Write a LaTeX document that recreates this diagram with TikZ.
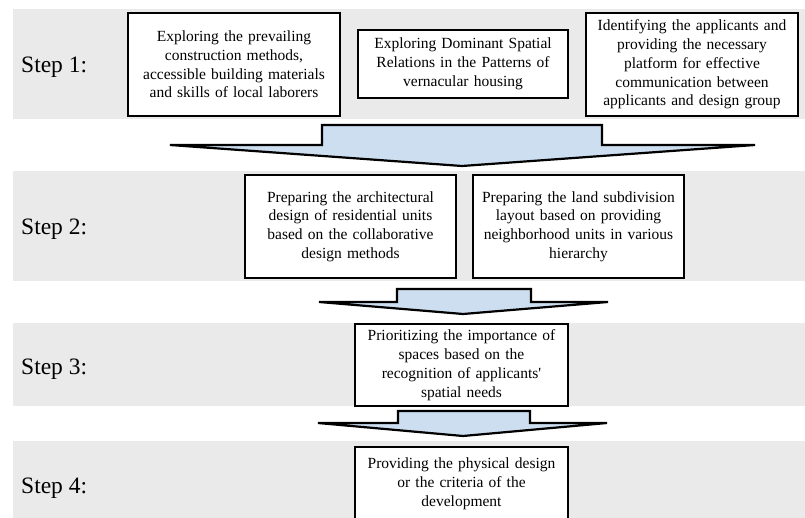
\documentclass[tikz,border=0pt]{standalone}
\usepackage{fontspec}
\setmainfont{Liberation Serif}
\usetikzlibrary{shapes,arrows,fit,positioning}
\definecolor{band}{RGB}{234,234,234}
\definecolor{lightblue}{RGB}{205,222,240}
\def\BoxFont{\fontsize{15.5}{18.8}\selectfont}
\def\StepFont{\fontsize{23.5}{28}\selectfont}

\begin{document}
\begin{tikzpicture}[x=1pt,y=-1pt,% pixel-like units, y runs downwards
      every node/.style={
        align=center,     % so that "\\" breaks the lines
        inner sep=0pt
      },
      box/.style={rectangle,draw=black,line width=2pt,fill=white,font=\BoxFont},
      steplabel/.style={anchor=base west,font=\StepFont},
      bigarrow/.style={draw=black,line width=2.2pt,fill=lightblue,line join=miter}
    ]
    \clip (0,0) rectangle (805,518);
    \fill[white] (0,0) rectangle (805,518);
    % gray bands, one per step
    \fill[band] (13,9) rectangle (805,119);
    \fill[band] (13,171) rectangle (805,281);
    \fill[band] (13,323) rectangle (805,406);
    \fill[band] (13,441) rectangle (805,530);

    \node[steplabel](S1) at (21,73){Step 1:};
    \node[steplabel](S2) at (21,235){Step 2:};
    \node[steplabel](S3) at (21,374){Step 3:};
    \node[steplabel](S4) at (21,493){Step 4:};

    % step 1
    \node[box,text width=212pt,minimum height=103pt](R1) at (234,64.5){Exploring the prevailing\\
construction methods,\\ accessible building materials\\ and skills of local laborers};
    \node[box,text width=210pt,minimum height=68pt](R2) at (463,64){Exploring Dominant Spatial\\
Relations in the Patterns of\\ vernacular housing};
    \node[box,text width=212pt,minimum height=103pt](R3) at (692,64.5){Identifying the applicants and\\
providing the necessary\\ platform for effective\\ communication between\\ applicants and design group};

    % step 2
    \node[box,text width=211pt,minimum height=103pt](R4) at (350.5,226.5){Preparing the architectural\\
design of residential units\\ based on the collaborative\\ design methods};
    \node[box,text width=211pt,minimum height=103pt](R5) at (578.5,226.5){Preparing the land subdivision\\
layout based on providing\\ neighborhood units in various\\ hierarchy};

    % step 3
    \node[box,text width=213pt,minimum height=82pt](R6) at (461.5,365){Prioritizing the importance of\\
spaces based on the\\ recognition of applicants\textquotesingle\\ spatial needs};

    % step 4
    \node[box,text width=213pt,minimum height=74pt](R7) at (461.5,484){Providing the physical design\\
or the criteria of the\\ development};

    % block arrows between the steps
    \draw[bigarrow] (322,125) -- (602,125) -- (602,145) -- (755,145) -- (462,166)
      -- (170,145) -- (322,145) -- cycle;
    \draw[bigarrow] (397,289) -- (531,289) -- (531,302) -- (608,302) -- (463,314)
      -- (319,302) -- (397,302) -- cycle;
    \draw[bigarrow] (398,411) -- (530,411) -- (530,423) -- (607,423) -- (463,436)
      -- (318,423) -- (398,423) -- cycle;
  \end{tikzpicture}
\end{document}
